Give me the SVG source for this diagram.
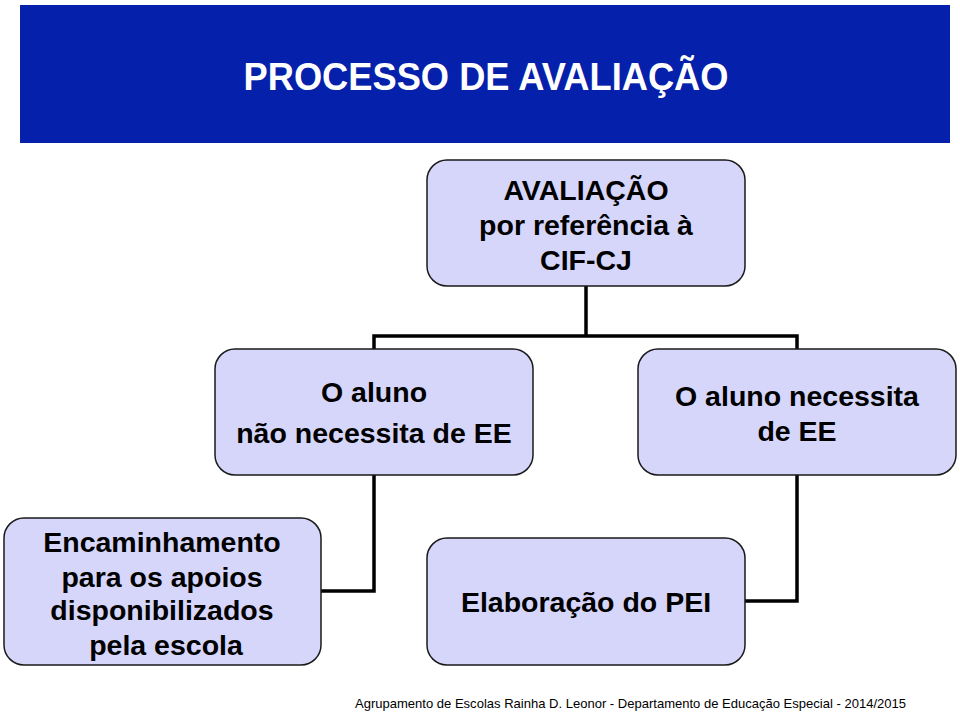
<svg xmlns="http://www.w3.org/2000/svg" width="960" height="712" viewBox="0 0 960 712">
<style>
.node{fill:#D6D6FA;stroke:#1a1a1a;stroke-width:1.5}
.t{font-family:"Liberation Sans",Arial,sans-serif;font-weight:bold;font-size:28.5px;fill:#000;text-anchor:middle}
.c{fill:none;stroke:#000;stroke-width:3.5}
</style>
<rect width="960" height="712" fill="#fff"/>
<rect x="20" y="5" width="930" height="138" fill="#0520AA"/>
<text x="486" y="90" font-family="Liberation Sans,Arial,sans-serif" font-weight="bold" font-size="38" fill="#fff" text-anchor="middle" textLength="485" lengthAdjust="spacingAndGlyphs">PROCESSO DE AVALIAÇÃO</text>
<g id="connectors">
<path class="c" d="M586 286V336M374 350V336H797V350"/>
<path class="c" d="M374 475V591H321"/>
<path class="c" d="M797 475V601H745"/>
</g>
<g id="n1"><rect class="node" x="427" y="160" width="318" height="126" rx="20"/>
<text class="t" x="586" y="200">AVALIAÇÃO</text>
<text class="t" x="586" y="235">por referência à</text>
<text class="t" x="586" y="270">CIF-CJ</text></g>
<g id="n2"><rect class="node" x="215" y="349" width="318" height="126" rx="20"/>
<text class="t" x="374" y="402">O aluno</text>
<text class="t" x="374" y="443">não necessita de EE</text></g>
<g id="n3"><rect class="node" x="638" y="349" width="318" height="126" rx="20"/>
<text class="t" x="797" y="406">O aluno necessita</text>
<text class="t" x="797" y="441">de EE</text></g>
<g id="n4"><rect class="node" x="4" y="518" width="317" height="147" rx="20"/>
<text class="t" x="162" y="552">Encaminhamento</text>
<text class="t" x="162" y="587">para os apoios</text>
<text class="t" x="162" y="620">disponibilizados</text>
<text class="t" x="166" y="655">pela escola</text></g>
<g id="n5"><rect class="node" x="427" y="538" width="318" height="127" rx="20"/>
<text class="t" x="586" y="612">Elaboração do PEI</text></g>
<text x="355" y="708" font-family="Liberation Sans,Arial,sans-serif" font-size="13" fill="#000" textLength="551" lengthAdjust="spacingAndGlyphs">Agrupamento de Escolas  Rainha D. Leonor - Departamento de Educação Especial - 2014/2015</text>
</svg>
